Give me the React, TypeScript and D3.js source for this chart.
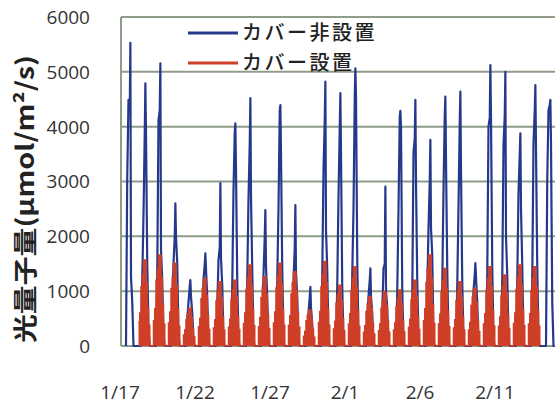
import React from 'react';
import * as d3 from 'd3';

// sample hours inside each day
const blueHours = [8, 10, 12, 14, 15, 16, 18, 20, 22];
const redHours = [4, 6, 8, 10, 12, 16, 18, 20, 22];

// カバー非設置, one row per day from 1/17
const blueDays = [
  [0, 3090, 4490, 4300, 5530, 1260, 800, 0, 0],
  [0, 1200, 2400, 3880, 4790, 3880, 1500, 300, 0],
  [0, 1300, 4120, 4300, 5155, 1750, 1200, 200, 0],
  [0, 800, 1500, 2000, 2600, 2000, 1500, 200, 0],
  [0, 500, 800, 1100, 1200, 900, 600, 100, 0],
  [0, 600, 1200, 1500, 1690, 1400, 900, 100, 0],
  [0, 700, 1570, 1800, 2970, 1600, 1100, 100, 0],
  [0, 1100, 2845, 3900, 4060, 3200, 1200, 100, 0],
  [0, 1200, 2690, 3700, 4520, 2700, 1400, 100, 0],
  [0, 600, 1300, 2000, 2480, 1446, 900, 100, 0],
  [0, 1200, 2520, 4300, 4395, 3500, 1400, 100, 0],
  [0, 600, 1200, 1800, 2570, 1355, 900, 100, 0],
  [0, 300, 600, 900, 1080, 700, 400, 50, 0],
  [0, 1300, 3210, 4120, 4820, 2115, 1400, 100, 0],
  [0, 1100, 2720, 4000, 4610, 3500, 1080, 100, 0],
  [0, 1300, 2500, 4550, 5065, 4550, 1570, 100, 0],
  [0, 500, 900, 1200, 1415, 900, 600, 50, 0],
  [0, 600, 1415, 1500, 2905, 1000, 700, 50, 0],
  [0, 1000, 2500, 4180, 4290, 4000, 1020, 100, 0],
  [0, 900, 3520, 3800, 4490, 3000, 1200, 100, 0],
  [0, 1000, 2145, 3000, 3760, 2145, 1660, 100, 0],
  [0, 1100, 2845, 4210, 4550, 3390, 1415, 100, 0],
  [0, 1100, 2540, 4100, 4640, 3200, 1170, 100, 0],
  [0, 500, 1000, 1300, 1510, 1250, 800, 50, 0],
  [0, 1300, 4010, 4160, 5125, 4160, 1446, 100, 0],
  [0, 1200, 3665, 4200, 5000, 2000, 1295, 100, 0],
  [0, 1200, 2800, 3500, 3880, 2500, 1477, 100, 0],
  [0, 1200, 3700, 4300, 4760, 3600, 1446, 100, 0],
  [0, 3030, 4300, 4400, 4490, 3700, 800, 0, 0],
];

// カバー設置, starts on 1/18
const redStartDay = 1;
const redDays = [
  [440, 600, 1080, 1300, 1570, 1150, 700, 380, 0],
  [460, 680, 1200, 1400, 1660, 1250, 750, 400, 0],
  [420, 620, 1050, 1250, 1510, 1100, 680, 360, 0],
  [200, 290, 480, 580, 690, 520, 320, 170, 0],
  [350, 500, 860, 1050, 1230, 920, 560, 300, 0],
  [330, 480, 820, 1000, 1170, 880, 530, 290, 0],
  [340, 490, 840, 1020, 1200, 900, 540, 300, 0],
  [410, 600, 1030, 1250, 1477, 1100, 670, 370, 0],
  [350, 520, 880, 1070, 1264, 950, 570, 320, 0],
  [420, 620, 1060, 1280, 1510, 1130, 680, 380, 0],
  [380, 550, 950, 1150, 1355, 1010, 610, 340, 0],
  [180, 270, 460, 560, 657, 490, 300, 160, 0],
  [430, 630, 1080, 1310, 1540, 1150, 690, 380, 0],
  [310, 450, 780, 940, 1110, 830, 500, 280, 0],
  [400, 590, 1010, 1230, 1446, 1080, 650, 360, 0],
  [250, 370, 630, 770, 900, 680, 410, 220, 0],
  [280, 400, 690, 840, 990, 740, 450, 250, 0],
  [290, 420, 710, 870, 1020, 770, 460, 260, 0],
  [340, 490, 840, 1020, 1200, 900, 540, 300, 0],
  [460, 680, 1160, 1410, 1660, 1250, 750, 410, 0],
  [400, 580, 990, 1200, 1415, 1060, 640, 350, 0],
  [330, 480, 820, 1000, 1170, 880, 530, 290, 0],
  [290, 430, 740, 890, 1050, 790, 470, 260, 0],
  [400, 590, 1010, 1230, 1446, 1080, 650, 360, 0],
  [360, 530, 910, 1100, 1295, 970, 580, 320, 0],
  [410, 600, 1030, 1250, 1477, 1100, 670, 370, 0],
  [400, 590, 1010, 1230, 1446, 1080, 650, 360, 0],
];

const yTicks = [0, 1000, 2000, 3000, 4000, 5000, 6000];
const xTickDays = [0, 5, 10, 15, 20, 25];
const xTickLabels = ['1/17', '1/22', '1/27', '2/1', '2/6', '2/11'];

const BLUE = '#25398c';
const RED = '#cf3f27';
const GRID = '#8e9c88';

type Pt = { t: number; v: number };

const App: React.FC = () => {
  const width = 555;
  const height = 407;
  const left = 121;
  const top = 17;
  const bottom = 346;

  const x = d3.scaleLinear().domain([0, 29]).range([left, left + 435]);
  const y = d3.scaleLinear().domain([0, 6000]).range([bottom, top]);

  const bluePts: Pt[] = blueDays.flatMap((row, d) =>
    row.map((v, i) => ({ t: d + blueHours[i] / 24, v }))
  );
  const redPts: Pt[] = redDays.flatMap((row, k) =>
    row.map((v, i) => ({ t: k + redStartDay + redHours[i] / 24, v }))
  );

  const blueLine = d3.line<Pt>().x(p => x(p.t)).y(p => y(p.v));
  const redArea = d3
    .area<Pt>()
    .curve(d3.curveStepAfter)
    .x(p => x(p.t))
    .y0(y(0))
    .y1(p => y(p.v));
  const redLine = d3
    .line<Pt>()
    .curve(d3.curveStepAfter)
    .x(p => x(p.t))
    .y(p => y(p.v));

  const font = "'Open Sans', 'Noto Sans', sans-serif";
  const jp = "'Noto Sans CJK JP', sans-serif";

  return (
    <svg
      width={width}
      height={height}
      style={{ position: 'absolute', left: 0, top: 0, background: '#fff' }}
    >
      {/* grid */}
      {yTicks.map(t => (
        <line key={t} x1={left} x2={width} y1={y(t)} y2={y(t)} stroke={GRID} strokeWidth={2} />
      ))}
      <line x1={left} x2={left} y1={top} y2={bottom} stroke={GRID} strokeWidth={2} />

      {/* series */}
      <path d={blueLine(bluePts) || ''} fill="none" stroke={BLUE} strokeWidth={2.2} strokeLinejoin="round" />
      <path d={redArea(redPts) || ''} fill={RED} stroke="none" />
      <path d={redLine(redPts) || ''} fill="none" stroke={RED} strokeWidth={1.5} />

      {/* y tick labels */}
      {yTicks.map(t => (
        <text
          key={t}
          x={90}
          y={y(t)}
          dy="0.36em"
          textAnchor="end"
          fontFamily={font}
          fontSize={19}
          fill="#333"
        >
          {t}
        </text>
      ))}

      {/* x tick labels */}
      {xTickDays.map((d, i) => (
        <text
          key={d}
          x={x(d) - 1}
          y={392}
          dy="0.36em"
          textAnchor="middle"
          fontFamily={font}
          fontSize={19}
          fill="#333"
        >
          {xTickLabels[i]}
        </text>
      ))}

      {/* y axis title */}
      <text
        transform="translate(34,199) rotate(-90)"
        textAnchor="middle"
        fontFamily={jp}
        fontSize={24}
        fontWeight={700}
        fill="#222"
        textLength={288}
        lengthAdjust="spacingAndGlyphs"
      >
        光量子量(μmol/m²/s)
      </text>

      {/* legend */}
      <line x1={188} x2={238} y1={33} y2={33} stroke={BLUE} strokeWidth={3} />
      <text x={242} y={40} fontFamily={jp} fontSize={20} fontWeight={500} fill="#222" letterSpacing={2.5}>
        カバー非設置
      </text>
      <line x1={188} x2={238} y1={63} y2={63} stroke={RED} strokeWidth={3} />
      <text x={242} y={70} fontFamily={jp} fontSize={20} fontWeight={500} fill="#222" letterSpacing={2.5}>
        カバー設置
      </text>
    </svg>
  );
};

export default App;
